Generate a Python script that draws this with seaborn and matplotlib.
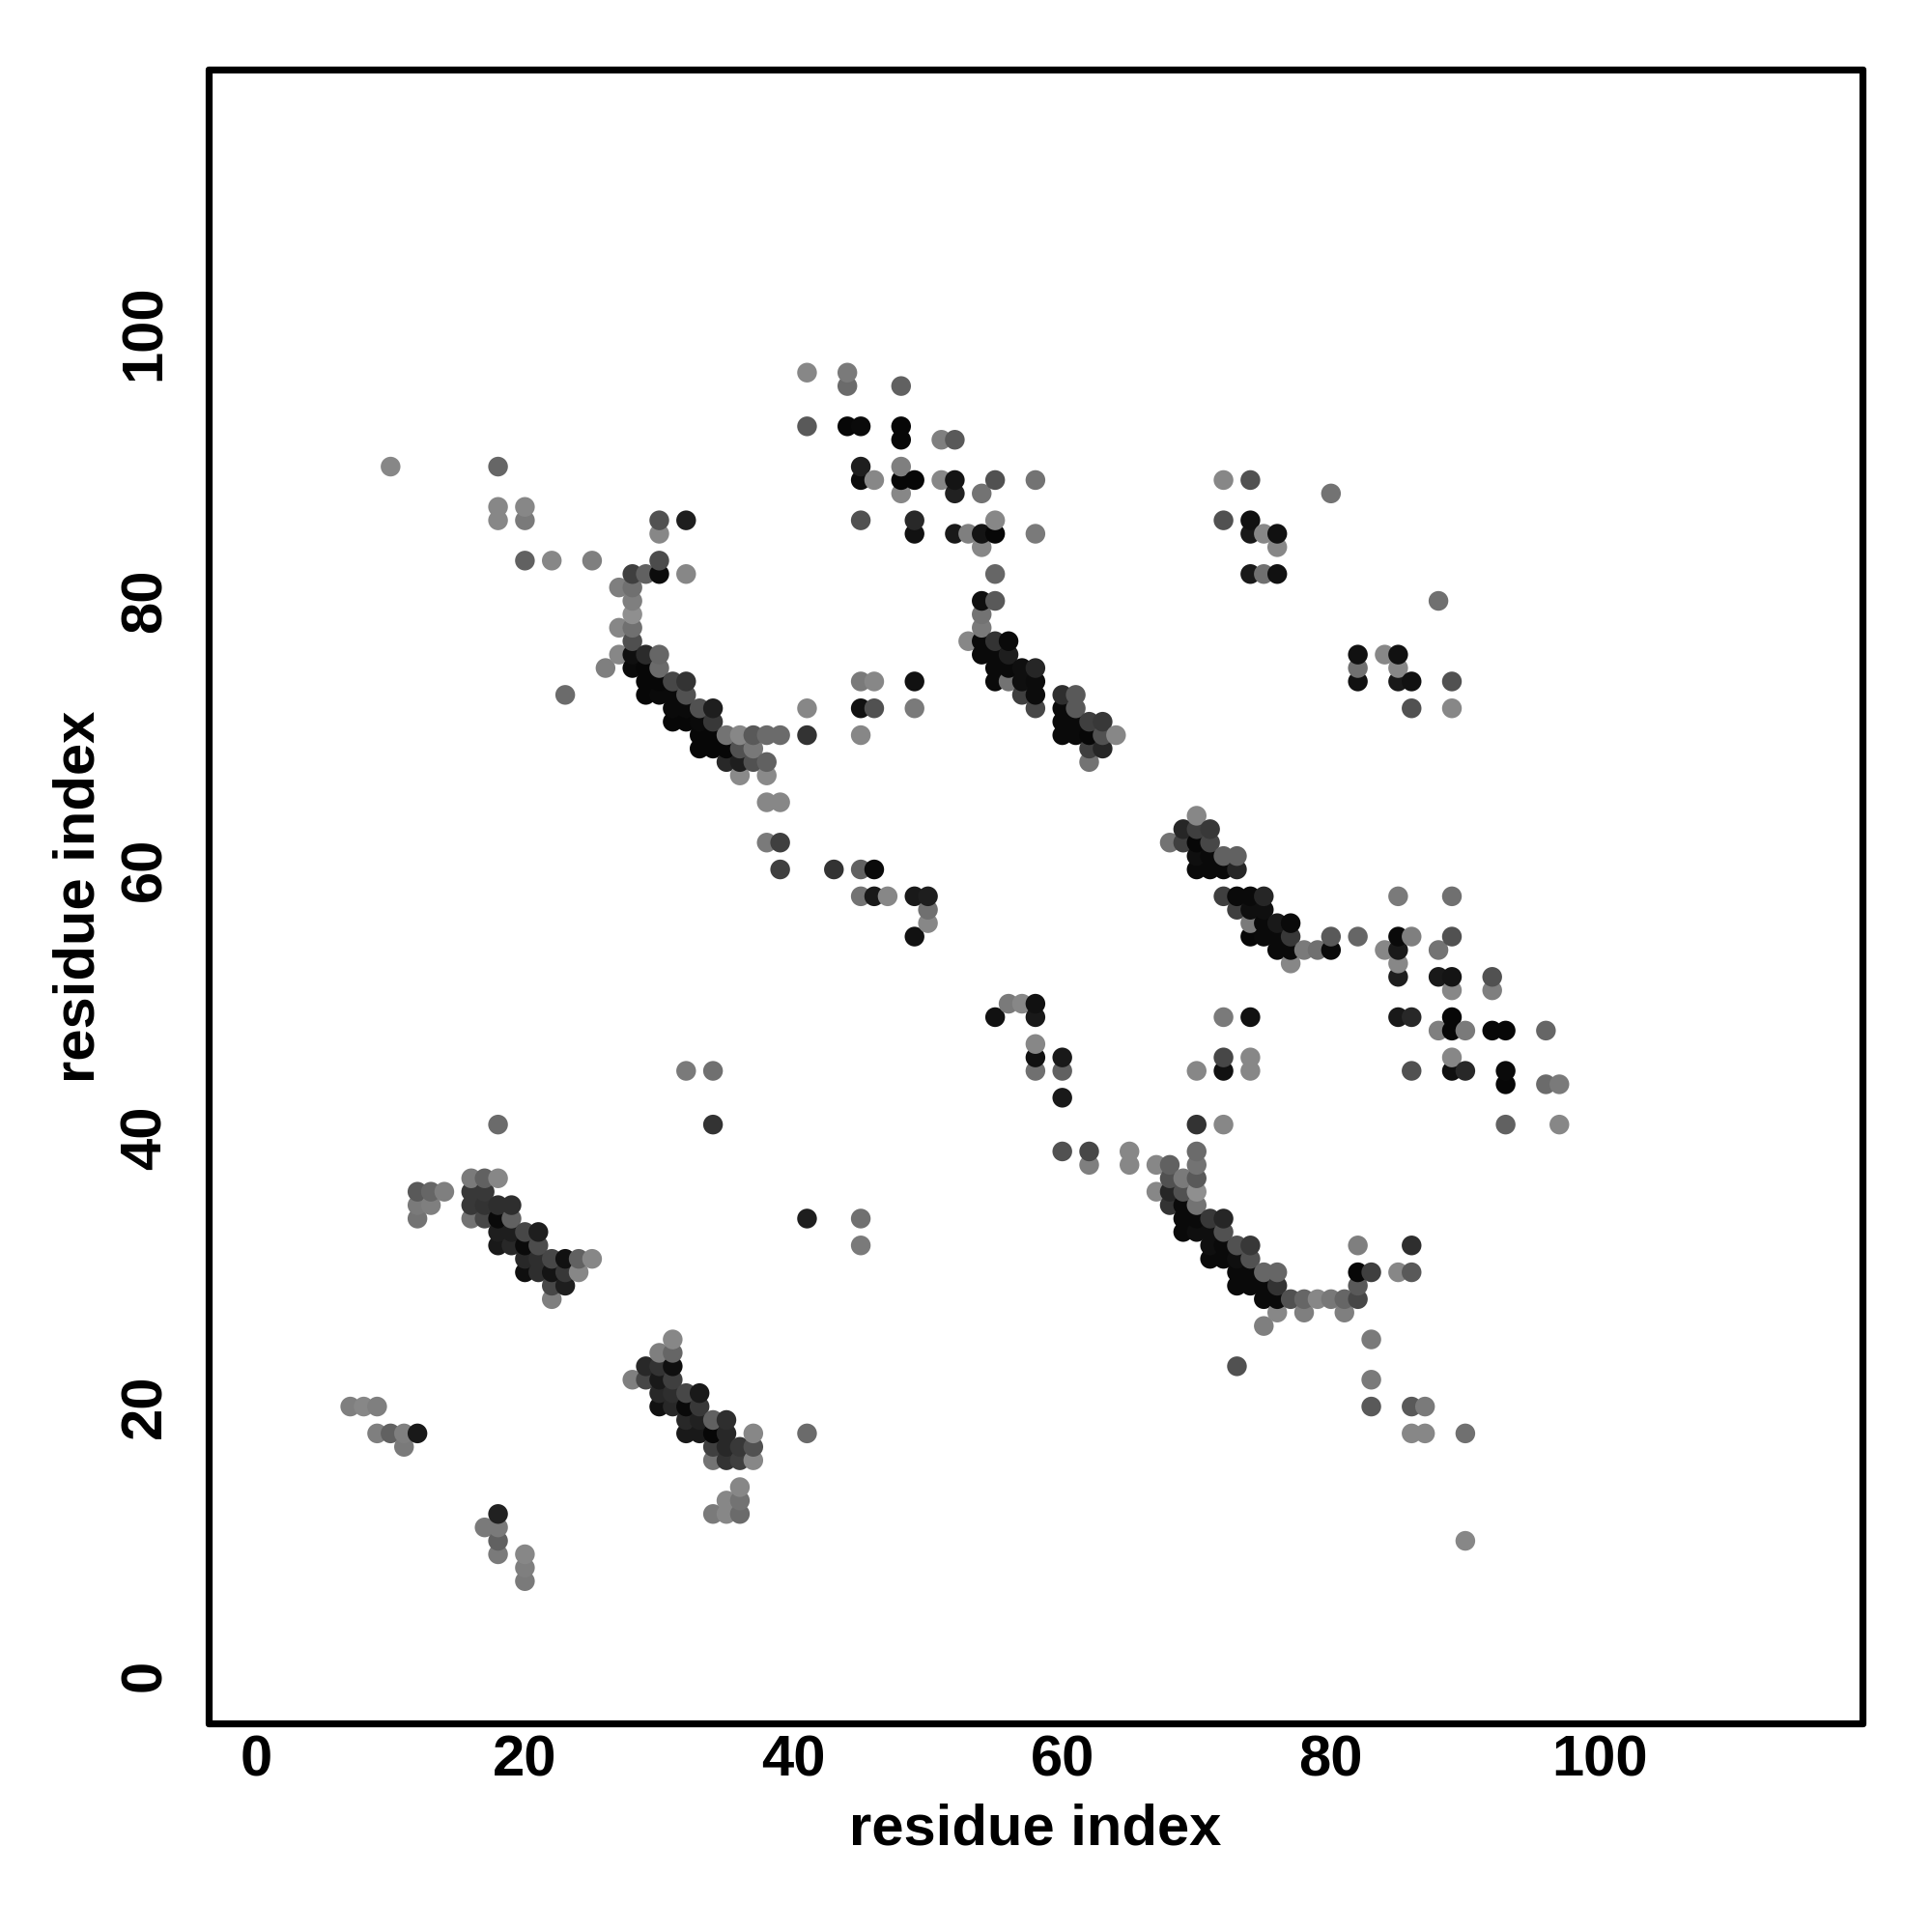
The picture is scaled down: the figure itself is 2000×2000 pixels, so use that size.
# Residue contact map, grey level = contact strength
import pandas as pd
import matplotlib
matplotlib.use("Agg")
import matplotlib.pyplot as plt
import seaborn as sns

# arc 1, residues 26-41 vs 67-83
arc1_i = [28,29,30,32, 30, 27,28, 28, 28, 27,28, 28, 27,28,29,30, 26,28,29,30, 29,30,31,32, 29,30,31,32,
          31,32,33,34,41, 31,32,33,34, 33,34,35,36,37,38,39,41, 33,34,35,36,37, 35,36,37,38, 36,38]
arc1_j = [82,82,82,82, 83, 81,81, 80, 79, 78,78, 77, 76,76,76,76, 75,75,75,75, 74,74,74,74, 73,73,73,73,
          72,72,72,72,72, 71,71,71,71, 70,70,70,70,70,70,70,70, 69,69,69,69,69, 68,68,68,68, 67,67]
arc1_s = [75,62,95,47, 70, 50,56, 50, 44, 47,56, 69, 47,94,83,60, 50,96,97,58, 97,97,72,80, 97,96,96,68,
          96,96,68,88,47, 97,97,96,78, 97,97,55,47,65,58,58,80, 97,97,97,68,53, 84,88,68,62, 46,46]

# arc 2, residues 53-64 vs 68-82
arc2_i = [55, 54,55, 54, 54, 53,54,55,56, 54,55,56, 55,56,57,58, 55,56,57,58, 57,58, 58,
          60,61, 60,61, 60,61,62,63, 60,61,62,63,64, 62,63, 62]
arc2_j = [82, 80,80, 79, 78, 77,77,77,77, 76,76,76, 75,75,75,75, 74,74,74,74, 73,73, 72,
          73,73, 72,72, 71,71,71,71, 70,70,70,70,70, 69,69, 68]
arc2_s = [60, 94,65, 55, 52, 47,96,80,96, 96,96,88, 96,96,94,85, 96,55,94,95, 75,95, 72,
          82,65, 96,65, 96,96,75,78, 96,96,97,68,47, 75,85, 55]

# arc 3, residues 68-85 vs 53-64
arc3_i = [70, 69,70,71, 68,69,70,71, 70,71,72,73, 70,71,72,73, 72,73,74,75, 73,74,75, 74,75,76,77,
          74,75,76,77,80,82, 76,77,78,79,80,84, 77]
arc3_j = [64, 63,63,63, 62,62,62,62, 61,61,61,61, 60,60,60,60, 58,58,58,58, 57,57,57, 56,56,56,56,
          55,55,55,55,55,55, 54,54,54,54,54,54, 53]
arc3_s = [47, 85,75,78, 55,75,97,72, 94,96,62,62, 96,96,96,85, 75,96,96,85, 75,94,94, 52,96,90,96,
          97,96,96,78,65,60, 96,96,52,56,96,47, 47]

# arc 4, residues 67-86 vs 25-39
arc4_i = [70, 67,68,70, 68,69,70, 67,68,69,70, 68,69,70, 69,70,71,72, 69,70,71,72, 71,72,73,74, 71,72,73,74,
          73,74,75,76, 73,74,75,76, 75,76,77,78,79,80,81,82, 76,78,81, 75, 83, 82,86, 82,83,85,86, 82]
arc4_j = [39, 38,38,38, 37,37,37, 36,36,36,36, 35,35,35, 34,34,34,34, 33,33,33,33, 32,32,32,32, 31,31,31,31,
          30,30,30,30, 29,29,29,29, 28,28,28,28,28,28,28,28, 27,27,27, 26, 25, 32,32, 30,30,30,30, 29]
arc4_s = [58, 47,62,55, 68,52,65, 47,85,68,44, 80,96,55, 96,96,78,85, 96,94,94,68, 94,96,68,78, 96,96,94,68,
          96,96,60,60, 96,96,96,80, 96,96,68,60,47,53,60,72, 47,50,50, 50, 52, 50,82, 97,75,47,65, 65]

# strand pair, residues 12-25 vs 28-37
pair1_i = [16,17,18, 12,13,14,16,17, 12,13,16,17,18,19, 12,16,17,18,19, 18,19,20,21, 18,19,20,21,
           20,21,22,23,24,25, 20,21,22,23,24, 22,23, 22]
pair1_j = [37,37,37, 36,36,36,36,36, 35,35,35,35,35,35, 34,34,34,34,34, 33,33,33,33, 32,32,32,32,
           31,31,31,31,31,31, 30,30,30,30,30, 29,29, 28]
pair1_s = [52,62,47, 65,60,50,78,78, 52,50,78,80,82,82, 55,55,72,96,62, 88,88,72,88, 90,84,96,70,
           84,82,72,93,62,47, 94,82,92,78,47, 72,88, 50]

# strand pair, residues 28-41 vs 12-25
pair2_i = [31, 30,31, 29,30,31, 28,29,30,31, 30,31,32,33, 30,31,32,33, 32,33,34,35, 32,33,34,35,37,41,
           34,35,36,37, 34,35,36,37, 36, 35,36, 34,35,36]
pair2_j = [25, 24,24, 23,23,23, 22,22,22,22, 21,21,21,21, 20,20,20,20, 19,19,19,19, 18,18,18,18,18,18,
           17,17,17,17, 16,16,16,16, 14, 13,13, 12,12,12]
pair2_s = [47, 50,60, 84,80,94, 50,72,90,75, 84,82,72,90, 93,84,96,78, 84,87,62,82, 90,90,97,84,47,58,
           75,84,78,68, 55,80,75,47, 47, 47,55, 52,47,58]

# upper block, residues 41-58 vs 82-97
top_i = [41,44,44,48, 41,44,45,48,48, 51,52, 45,45,46,48,48,49,48, 51,52,52,54,55,58,
         45,49,49,52,53,54,55,55,54,58]
top_j = [97,97,96,96, 93,93,93,93,92, 92,92, 90,89,89,90,89,89,88, 89,89,88,88,89,89,
         86,86,85,85,85,85,85,86,84,85]
top_s = [47,52,58,62, 65,97,96,97,97, 50,65, 88,95,47,50,97,97,47, 47,92,87,55,68,55,
         68,84,93,90,50,92,97,47,47,52]

# right block, residues 85-97 vs 41-58
right_i = [85,89, 85,86,89, 85,88, 85, 85,88,89, 89, 92, 92,
           85,86,89, 88,89,90,92,93,96, 89, 86,89,90,93, 93,96,97, 93,97]
right_j = [58,58, 55,55,55, 54,54, 53, 52,52,52, 51, 52, 51,
           49,49,49, 48,48,48,48,48,48, 46, 45,45,45,45, 44,44,44, 41,41]
right_s = [52,56, 96,50,68, 90,55, 47, 88,90,92, 47, 68, 50,
           90,84,97, 50,97,52,97,97,60, 47, 68,94,84,96, 97,58,52, 62,47]

# isolated contacts, upper half
upper_i = [10,18,18,18,20,20,20,22,25,30,32,30,23,38,39,38,39,39,43,45,46,45,46,47,49,50,50,50,49,
           45,46,49,45,46,49,45,72,74,80,72,74,74,75,76,76,74,75,76,88,
           82,84,85,82,85,82,85,86,89,86,89]
upper_j = [90,90,87,86,87,86,83,83,83,86,86,85,73,65,65,62,62,60,60,60,60,58,58,58,58,58,57,56,55,
           74,74,74,72,72,72,70,89,89,88,86,86,85,85,85,84,82,82,82,80,
           76,76,76,75,75,74,74,74,74,72,72]
upper_s = [47,60,47,47,47,52,62,47,50,68,88,47,58,47,47,52,75,75,80,62,96,55,90,47,90,88,56,47,93,
           52,47,93,93,68,52,47,47,68,55,68,93,90,47,93,47,90,56,93,56,
           93,47,93,56,47,93,90,93,68,68,47]

# isolated contacts, lower half
lower_i = [55,56,57,58,58,58,58,60,58,60,60,72,74,72,74,70,72,74,70,72,60,62,62,65,65,
           32,34,34,18,41,45,45,7,8,9,9,10,11,12,11,18,17,18,18,18,20,20,20,
           73,83,83,86,87,86,87,90,90]
lower_j = [49,50,50,50,49,47,46,46,45,45,43,49,49,46,46,45,45,45,41,41,39,39,38,39,38,
           45,45,41,41,34,34,32,20,20,20,18,18,18,18,17,12,11,11,10,9,9,8,7,
           23,22,20,20,20,18,18,18,10]
lower_s = [93,52,47,93,90,47,93,90,56,62,90,52,93,72,47,47,93,47,80,47,68,72,50,47,47,
           52,56,80,58,88,56,52,50,47,50,50,62,50,90,52,87,52,52,62,52,47,50,52,
           68,52,65,65,52,47,47,56,47]

df = pd.DataFrame({
    "i": arc1_i + arc2_i + arc3_i + arc4_i + pair1_i + pair2_i + top_i + right_i + upper_i + lower_i,
    "j": arc1_j + arc2_j + arc3_j + arc4_j + pair1_j + pair2_j + top_j + right_j + upper_j + lower_j,
    "strength": arc1_s + arc2_s + arc3_s + arc4_s + pair1_s + pair2_s + top_s + right_s + upper_s + lower_s,
})
df = df.sort_values(["i", "j"])

tick_values = [0, 20, 40, 60, 80, 100]

sns.set_style("white")
plt.rcParams["font.family"] = ["Liberation Sans", "DejaVu Sans"]
plt.rcParams["text.color"] = "black"
plt.rcParams["axes.labelcolor"] = "black"
plt.rcParams["xtick.labelcolor"] = "black"
plt.rcParams["ytick.labelcolor"] = "black"

fig = plt.figure(figsize=(10, 10), dpi=200)
ax = fig.add_axes([0.10815, 0.10815, 0.85585, 0.85585])

sns.scatterplot(data=df, x="i", y="j", hue="strength", palette="gray_r", hue_norm=(0, 100),
                s=54, linewidth=0, legend=False, ax=ax)

ax.set_xlim(-3.52, 119.56)
ax.set_ylim(-3.57, 119.57)
ax.set_xticks(tick_values)
ax.set_yticks(tick_values)
ax.tick_params(axis="x", length=3.2, width=1.4, color="black", pad=1, labelsize=21.5)
ax.tick_params(axis="y", length=3.2, width=1.4, color="black", pad=10.5, labelsize=21.5)
for label in ax.get_xticklabels() + ax.get_yticklabels():
    label.set_fontweight("bold")
for label in ax.get_yticklabels():
    label.set_rotation(90)
    label.set_va("center")

ax.set_xlabel("residue index", fontsize=21.5, fontweight="bold", labelpad=5.8)
ax.set_ylabel("residue index", fontsize=21.5, fontweight="bold", labelpad=4.8)
for side in ax.spines.values():
    side.set_visible(True)
    side.set_color("black")
    side.set_linewidth(2.6)
    side.set_capstyle("round")

fig.savefig("out.png", dpi=200)
